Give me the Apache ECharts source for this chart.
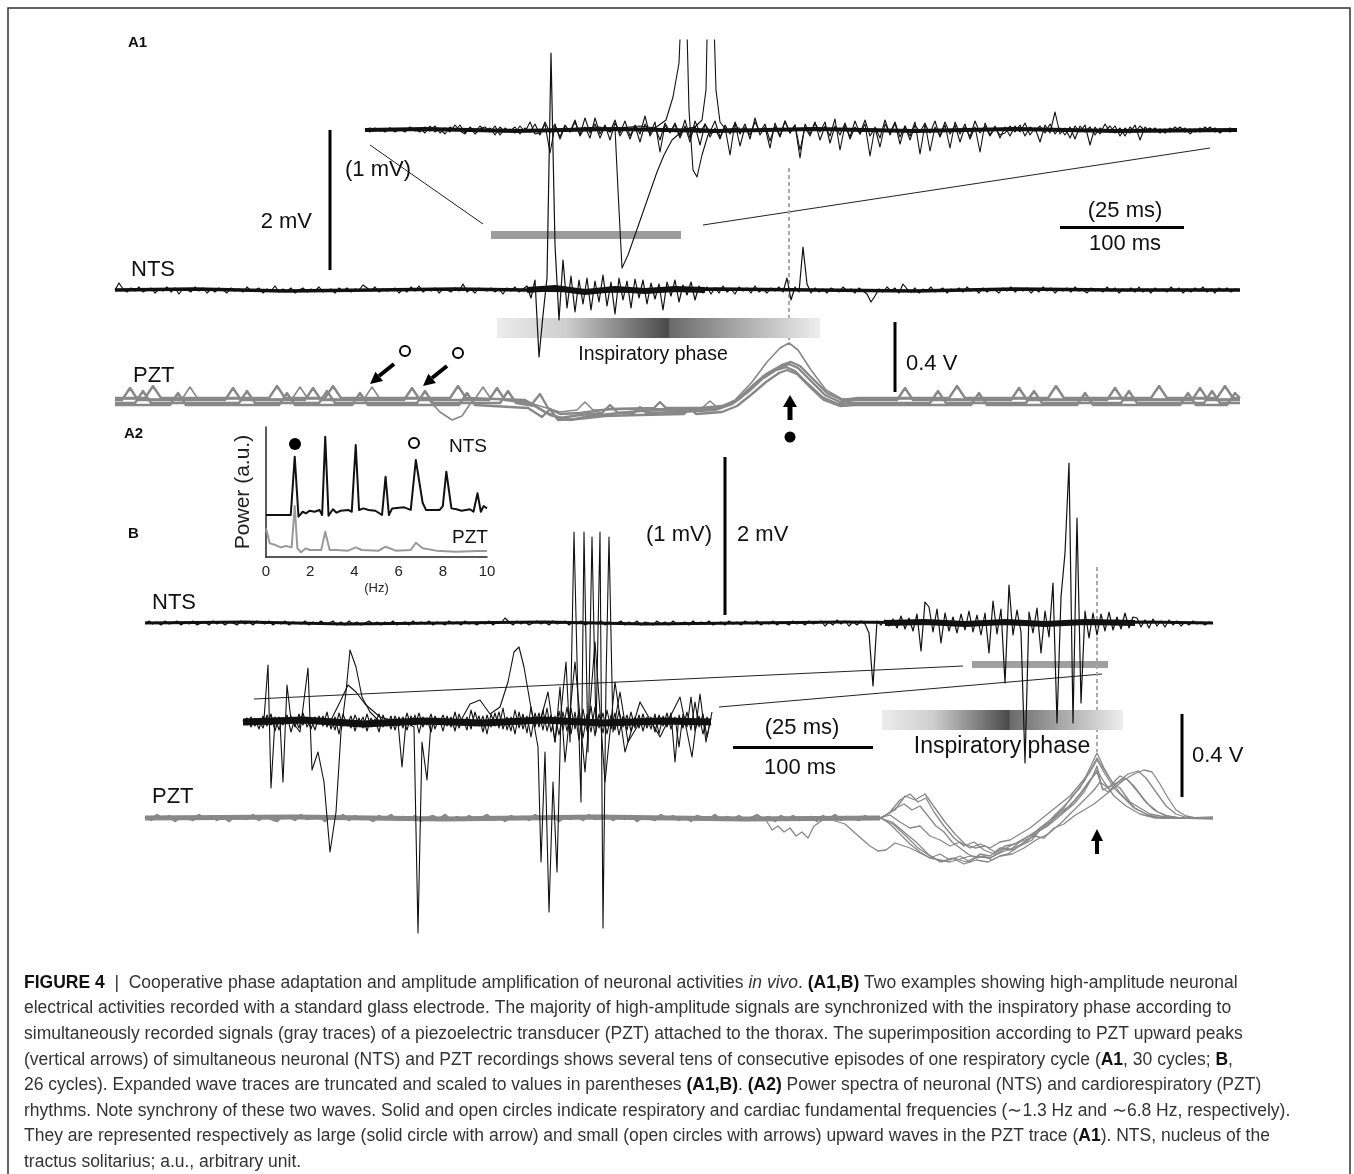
<!DOCTYPE html>
<html><head><meta charset="utf-8">
<script src="https://cdn.jsdelivr.net/npm/echarts/dist/echarts.min.js"></script>
<style>html,body{margin:0;padding:0;background:#fff}#c{width:1354px;height:1174px}</style>
</head><body><div id="c"></div><script>
// ---------- DATA (amplitudes in ADC counts, time in samples) ----------
// A1 NTS recording (superimposed cycles), sample step 4
const ntsA1 = [
0,7,1,-2,2,-1,3,-2,0,2,-3,1,-1,3,-2,2,-4,1,0,-2,
3,-1,2,-3,1,-2,2,0,-3,2,-1,1,-2,3,-1,0,2,-3,1,-1,
4,-2,1,-1,2,-3,0,2,-2,1,-1,3,-2,0,1,-3,2,-1,2,-2,
1,0,5,2,-1,3,-2,1,-1,0,2,-3,1,-2,3,-1,4,-2,1,-1,
2,-3,1,0,-2,2,-1,6,-2,1,-3,2,0,-1,2,-2,1,-4,2,-1,
3,-2,1,
4,-8,10,-67,-25,12,237,45,-30,30,-18,14,-22,10,-14,12,-20,9,-12,15,-16,8,-24,12,-10,9,-18,11,-8,10,-14,7,-9,6,-20,8,-6,10,-12,5,-5,8,-10,4,-3,
3,-4,2,-3,4,-2,1,-4,3,-1,2,-3,4,-2,1,-3,2,-1,3,-2,
12,-10,3,-2,43,6,-3,
2,-2,1,-3,2,0,-2,3,-1,1,-3,2,-1,-4,
-12,-6,
1,-2,3,-1,2,-3,6,1,-2,2,-3,1,-1,3,-2,0,2,-3,1,-1,
2,-2,3,-1,1,-3,2,-2,1,0,-3,2,-1,3,-2,1,-1,2,-3,1,
-2,3,-1,2,-3,1,-1,2,-2,3,-1,0,-3,2,-1,1,-2,3,-1,2,
-3,1,-1,2,-2,3,-2,1,-3,2,-1,1,-2,3,-1,2,-3,1,-2,2,
-1,3,-2,1,-3,2,-1,2,-2,1,0];
// dense overlap core of the 30 superimposed NTS cycles [sample, counts]
const ntsA1core = [[0,0],[80,1],[170,-1],[260,0],[340,1],[410,0],[500,-1],[600,1],[700,0],[800,-1],[900,1],[1000,0],[1125,0]];
const ntsA1burst = [[412,0],[440,2],[470,-2],[500,1],[530,-1],[560,1],[590,0]];
// A1 expanded NTS traces, sample step 5
const expA1a = [
0,2,-1,1,-2,2,-1,1,-2,3,-1,
2,-3,4,-2,1,-4,3,-1,5,-3,2,-4,1,3,-2,4,-5,2,-1,3,-4,2,-2,6,
-5,8,-3,6,-9,4,-2,10,-6,3,-8,12,-4,5,-10,7,-3,9,-6,4,
-12,6,-4,8,-22,5,-3,7,-6,10,-8,4,-15,6,-2,9,-7,3,-25,8,
-4,6,-9,12,-5,3,-18,7,-6,9,-3,5,-28,6,-4,8,-10,4,-6,11,
-20,5,-7,9,-4,6,-26,3,-8,10,-5,7,-14,4,-6,8,-24,6,-3,9,
-7,5,-18,8,-4,6,-9,3,-22,7,-5,4,-8,
3,-6,4,-2,7,-5,2,-12,5,-3,18,-4,2,-8,4,-2,5,-15,3,-4,6,-2,4,-6,2,-3,5,-10,3,-2,
2,-3,1,-2,3,-1,2,-4,1,-2,3,-1,2,-3,1,-2,0];
const expA1b = [
1,-2,2,-1,0,2,-2,1,-1,2,0,
-2,3,-1,4,-3,2,-2,5,-1,-4,3,-2,4,-1,2,-5,3,-2,1,-3,4,-2,8,-4,
-3,6,-23,4,-7,5,-2,8,-5,12,-3,6,-8,4,-2,10,-6,3,-9,5,
-4,14,-6,3,-10,7,-2,5,-8,4,-12,9,-3,6,-7,2,-9,5,-4,7,
-16,3,-5,8,-2,6,-11,4,-7,9,-3,5,-20,3,-6,7,-2,8,-13,4,
-5,7,-9,3,-4,10,-6,2,-17,6,-3,8,-7,4,-10,5,-2,7,-21,3,
-6,8,-4,5,-12,3,-7,9,-3,4,-6,2,-5,
-3,4,-2,5,-6,3,-1,4,-3,6,-4,2,-5,3,-9,4,-2,3,-5,2,-1,4,-3,2,-6,3,-2,4,-1,2,
-2,1,-3,2,-1,3,-2,1,-2,2,-1,3,-2,1,-1,2,0];
const expA1c = [[175,0],[235,3],[245,-2],[250,2],[253,-60],[257,-138],[263,-125],[270,-105],[277,-85],[285,-62],[292,-42],[299,-25],[307,-10],[315,-3],[325,2],[355,0]];
const expA1d = [[235,0],[275,4],[290,2],[301,10],[308,33],[314,67],[317,140],[321,140],[324,20],[328,-40],[332,-47],[337,-25],[343,-5],[351,0],[375,2]];
const expA1e = [[315,0],[330,3],[337,10],[341,40],[343,140],[348,140],[351,40],[355,8],[361,0],[380,1]];
const expA1core = [[0,0],[60,1],[150,-1],[250,1],[350,-1],[450,1],[550,-1],[650,1],[750,-1],[872,0]];
// A1 PZT superimposed cycles [sample, counts]
const pztA1a = [[0,0],[7,0],[15,12],[23,0],[110,0],[118,12],[126,0],[190,0],[198,12],[206,0],[289,0],[297,12],[305,0],[374,0],[382,12],[390,0],[415,-3],[430,-12],[445,-18],[465,-15],[487,-13],[495,-5],[503,-13],[525,-11],[545,-10],[585,-10],[605,-8],[620,-2],[635,12],[650,25],[665,33],[674,36],[683,32],[695,20],[710,5],[725,-2],[740,0],[782,0],[790,12],[798,0],[896,0],[904,12],[912,0],[992,0],[1000,12],[1008,0],[1077,0],[1085,12],[1093,0],[1125,0]];
const pztA1b = [[0,-3],[20,-3],[28,9],[36,-3],[124,-3],[132,9],[140,-3],[204,-3],[212,9],[220,-3],[302,-3],[310,9],[318,-3],[385,-3],[393,9],[401,-3],[420,-6],[435,-15],[455,-20],[475,-16],[505,-13],[519,-13],[525,-7],[531,-13],[565,-12],[600,-10],[617,-4],[633,8],[647,21],[661,30],[671,33],[680,29],[693,16],[707,3],[723,-4],[737,-3],[815,-3],[823,9],[831,-3],[911,-3],[919,9],[927,-3],[1006,-3],[1014,9],[1022,-3],[1089,-3],[1097,9],[1105,-3],[1125,-3]];
const pztA1c = [[0,2],[30,2],[38,14],[46,2],[154,2],[162,14],[170,2],[210,2],[218,14],[226,2],[335,2],[343,14],[351,2],[410,0],[417,-4],[425,6],[433,-8],[445,-14],[465,-13],[495,-9],[539,-8],[545,-2],[551,-8],[585,-8],[607,-6],[623,0],[638,14],[653,27],[667,35],[676,38],[685,34],[697,22],[712,7],[727,0],[743,2],[834,2],[842,14],[850,2],[933,2],[941,14],[949,2],[1036,2],[1044,14],[1052,2],[1102,2],[1110,14],[1118,2],[1125,2]];
const pztA1d = [[0,-5],[55,-5],[63,7],[71,-5],[164,-5],[172,7],[180,-5],[237,-5],[245,7],[253,-5],[344,-5],[352,7],[360,-5],[413,-8],[427,-17],[435,-9],[443,-20],[463,-19],[490,-16],[525,-15],[569,-14],[575,-8],[581,-14],[607,-12],[622,-6],[637,6],[651,18],[664,27],[672,30],[682,26],[694,14],[709,0],[725,-6],[740,-5],[856,-5],[864,7],[872,-5],[962,-5],[970,7],[978,-5],[1065,-5],[1073,7],[1081,-5],[1112,-5],[1120,7],[1125,2]];
const pztA1e = [[0,1],[67,1],[75,13],[83,1],[177,1],[185,13],[193,1],[249,1],[257,13],[265,1],[313,1],[325,-12],[337,-20],[347,-16],[355,-4],[360,1],[368,13],[376,1],[405,0],[425,-6],[445,-12],[462,-10],[470,-2],[478,-10],[525,-9],[587,-8],[595,-1],[603,-8],[620,0],[637,18],[652,38],[665,52],[674,57],[683,50],[696,30],[711,10],[727,1],[745,1],[1125,1]];
// A2 power spectra [Hz, a.u.]
const specNTS = [[0,32.3],[1.12,32.3],[1.3,77.2],[1.47,31],[1.66,34.8],[1.81,33.6],[1.97,35.6],[2.2,34.8],[2.42,36.2],[2.54,32.3],[2.68,92.5],[2.83,31.8],[3.03,36.7],[3.19,34.1],[3.38,35.6],[3.72,36.2],[3.88,34.8],[4.06,86.2],[4.21,36.2],[4.41,37.4],[4.64,36.2],[4.95,35.6],[5.25,32.3],[5.41,61.8],[5.56,32.3],[5.71,37.4],[6.02,37.9],[6.25,38.2],[6.55,36.2],[6.78,74.6],[7.09,41.5],[7.24,36.2],[7.86,36.2],[8.0,39.2],[8.16,65.6],[8.39,37.4],[8.62,36.7],[8.85,35.6],[9.23,36.7],[9.39,34.8],[9.57,49],[9.72,34.8],[9.85,39.2],[10,37.4]];
const specPZT = [[0,22],[0.17,10.5],[0.43,9.2],[0.67,7.4],[0.9,8.5],[1.16,7.4],[1.3,39.2],[1.42,6.7],[1.58,3.6],[1.81,6.7],[1.97,5.4],[2.2,5.4],[2.5,5.4],[2.68,19.5],[2.88,5.4],[3.19,5.4],[3.72,4.9],[4.06,7.4],[4.33,5.4],[5.1,4.9],[5.41,7.9],[5.87,4.9],[6.55,5.4],[6.78,11],[7.09,6.7],[7.7,4.9],[8.62,4.1],[9.54,4.6],[10,4.6]];
const specTicks = [0,2,4,6,8,10];
// B NTS recording, sample step 4
const ntsB = [
0,2,-1,1,-2,2,-1,0,2,-2,1,-1,2,-2,0,1,-2,2,-1,1,
-2,1,0,-2,2,-1,1,-2,2,0,-1,2,-2,1,-1,2,-2,1,0,-1,
2,-2,1,-1,2,-1,0,2,-2,1,-2,2,-1,1,-2,0,2,-1,1,-2,
1,-1,2,-2,0,1,-2,2,-1,1,-1,2,-2,1,0,-2,2,-1,1,-2,
2,-1,0,-2,1,-1,2,-2,1,0,5,1,-2,2,-1,1,-2,0,2,-1,
1,-2,2,-1,0,2,-2,1,-1,2,-2,0,1,-1,2,-2,1,-1,0,2,
-2,1,-1,2,-2,1,0,-2,2,-1,1,-2,2,-1,0,1,-2,2,-1,1,
-1,2,-2,0,1,-2,2,-1,1,-2,2,0,-1,2,-2,1,-1,2,-2,1,
0,-2,2,-1,1,-2,2,-1,0,2,-3,1,-2,3,-1,2,-3,1,-2,2,
-1,-10,-63,2,-2,3,-3,
4,-5,7,-6,5,-8,9,-28,21,16,-9,14,-20,10,-8,6,-10,9,-7,12,
-9,8,-12,10,-30,22,-11,14,-60,38,-12,13,-9,-140,11,-10,15,-30,12,-14,
40,-100,26,70,160,-100,105,-80,12,-15,10,-12,9,-8,11,-7,6,-6,10,-5,6,
5,-4,3,-5,4,-3,2,-4,3,-2,2,-3,1,-2,2,-1,1,-2,1,0];
const ntsBcore = [[0,0],[100,1],[200,-1],[300,0],[400,1],[500,-1],[600,0],[700,1],[800,0],[900,-1],[1000,1],[1068,0]];
const ntsBburst = [[740,0],[780,1],[820,-1],[860,1],[900,-1],[940,1],[990,0]];
// B expanded NTS traces, sample step 4
const expBa = [
0,4,-5,3,-7,6,-4,8,-9,5,-3,7,-10,4,-6,9,-5,3,-8,6,
-4,10,-7,5,-12,8,-3,6,-9,4,-6,8,-5,3,-10,7,-4,6,-8,5,
-6,9,-4,7,-11,5,-3,8,-7,4,-9,6,-5,10,-6,3,-8,12,-4,6,
-10,7,-5,9,-6,14,-8,5,-12,10,-7,6,-15,9,-5,12,-9,7,-20,11,
-8,15,-12,10,-18,13,-9,16,-14,8,-11,12,-7,9,-13,6,-8,10,-6,7,
-9,5,-7,8,-12,6,-5,9,-40,7,-6,10,-8,20,-5,8,-15,4];
const expBb = [
2,-3,5,-4,2,-6,7,-3,5,-8,4,-2,6,-5,8,-3,4,-7,5,-2,
6,-5,3,-8,9,-4,2,-6,7,-3,5,-9,4,-2,8,-5,3,-7,6,-4,
5,-8,6,-3,9,-5,4,-10,6,-2,7,-4,5,-9,8,-3,5,-7,10,-4,
6,-12,8,-4,10,-7,5,-9,12,-6,8,-11,15,-5,9,-8,14,-10,6,-13,
10,-9,14,-7,11,-16,8,-10,15,-6,9,-12,7,-8,11,-5,7,-9,5,-6,
8,-6,5,-10,7,-4,9,-7,5,-25,8,-5,25,-9,6,-12,5,-3];
const expBc = [[12,0],[21,3],[25,57],[28,-66],[32,2],[37,0],[40,-60],[44,37],[48,2],[57,-10],[65,54],[69,-48],[75,-30],[81,-60],[87,-130],[93,-90],[98,-10],[103,30],[107,72],[113,55],[119,25],[127,10],[137,0]];
const expBd = [[87,0],[97,20],[105,37],[113,30],[122,18],[137,5],[155,0],[159,-45],[163,0],[171,-5],[175,-211],[179,-20],[184,-58],[188,0],[202,3]];
const expBe = [[217,0],[227,18],[237,22],[247,8],[257,15],[265,40],[271,70],[276,75],[281,55],[287,20],[295,-25],[298,-140],[302,-30],[306,-190],[310,-60],[314,-150],[318,10],[323,60],[327,-20],[331,190],[335,20],[338,-80],[341,190],[345,-30],[349,185],[353,-10],[357,190],[360,-206],[363,40],[366,185],[370,-10],[377,30],[385,-20],[397,0]];
const expBf = [[297,0],[305,30],[312,-20],[317,35],[322,-40],[332,60],[342,-50],[352,80],[362,-60],[372,40],[382,-30],[397,20],[417,-15],[437,25],[449,-35],[457,28],[463,-20],[469,10]];
const expBcore = [[0,0],[60,2],[120,-2],[180,1],[240,-1],[300,2],[360,-1],[420,1],[468,0]];
// B PZT: flat superimposed baseline (sample step 6) and respiratory cycles [sample, counts]
const pztBbase = [
1,-2,3,-1,2,-3,1,0,-2,3,-1,2,-2,1,-3,2,0,-1,3,-2,
2,-1,-3,2,1,-2,3,-1,0,2,-3,1,-1,3,-2,2,-1,0,-3,2,
-1,3,-2,1,-1,2,-3,0,2,-1,3,-2,1,-2,2,-1,0,3,-2,1,
-3,2,-1,1,-2,3,0,-1,2,-3,1,-1,2,-2,3,-1,0,2,-2,1,
-1,2,-3,1,0,-2,3,-1,2,-2,1,-3,2,0,-1,3,-2,1,-1,2,
-2,0,3,-1,1,-3,2,-1,2,-2,0,1,-3,2,-1,3,-2,1,0,-2,
2,-1,1];
const pztBcore = [[0,0],[150,1],[300,-1],[450,1],[600,-1],[735,0]];
const pztBa = [[735,0],[743,4],[751,10],[759,14],[767,8],[775,12],[783,2],[791,-8],[799,-14],[807,-24],[815,-30],[823,-36],[831,-40],[839,-38],[847,-42],[855,-38],[863,-36],[871,-30],[879,-26],[887,-22],[895,-12],[903,-8],[911,4],[919,10],[927,22],[935,30],[943,46],[952,65],[959,50],[967,36],[975,30],[985,16],[995,10],[1005,4],[1015,2],[1030,0],[1068,0]];
const pztBb = [[735,1],[745,-6],[755,-16],[765,-26],[775,-34],[785,-40],[795,-36],[805,-42],[815,-38],[825,-44],[835,-36],[845,-38],[855,-30],[865,-32],[875,-24],[885,-20],[895,-10],[905,-4],[915,6],[925,12],[935,24],[945,38],[952,46],[958,28],[965,32],[975,42],[983,38],[993,26],[1003,14],[1013,6],[1023,2],[1035,0],[1068,-1]];
const pztBc = [[735,-1],[745,6],[755,18],[765,24],[773,16],[781,20],[789,6],[799,-8],[809,-20],[819,-28],[829,-24],[839,-32],[849,-36],[859,-30],[869,-32],[879,-24],[889,-18],[899,-20],[909,-10],[919,-6],[929,2],[939,8],[949,14],[959,22],[969,30],[979,38],[989,44],[999,48],[1007,46],[1015,34],[1023,20],[1031,8],[1041,2],[1051,0],[1068,0]];
const pztBd = [[735,0],[747,-4],[759,-14],[771,-24],[783,-36],[795,-44],[807,-40],[819,-46],[831,-42],[843,-44],[855,-38],[867,-36],[879,-30],[891,-22],[903,-16],[915,-6],[927,6],[939,18],[949,28],[955,36],[963,30],[973,36],[983,44],[993,47],[1001,40],[1011,26],[1021,12],[1031,4],[1043,0],[1068,1]];
const pztBe = [[735,0],[745,3],[755,-4],[765,-10],[775,-8],[785,-18],[795,-22],[805,-28],[815,-24],[825,-30],[835,-26],[845,-30],[855,-24],[865,-22],[875,-16],[885,-10],[895,-2],[905,6],[915,14],[925,22],[935,34],[945,46],[952,58],[960,44],[969,30],[979,20],[989,10],[1001,4],[1015,0],[1068,0]];
const pztBf = [[615,0],[621,-2],[627,-12],[633,-8],[639,-14],[645,-10],[651,-18],[657,-14],[663,-20],[669,-8],[675,-4],[682,1],[690,-3],[700,-6],[710,-15],[718,-22],[725,-28],[733,-33],[741,-32],[750,-25],[765,-30],[785,-40],[805,-44],[825,-38],[845,-40],[865,-28],[885,-18],[905,-2],[925,18],[940,38],[952,60],[963,42],[975,25],[990,10],[1005,2],[1020,0],[1068,0]];
const pztBg = [[735,0],[750,8],[760,22],[770,18],[780,24],[790,10],[800,-4],[810,-16],[820,-26],[830,-30],[840,-28],[850,-34],[860,-28],[870,-26],[880,-20],[890,-14],[900,-8],[910,0],[920,8],[930,18],[940,30],[947,40],[952,52],[957,30],[963,26],[971,34],[980,40],[989,32],[999,18],[1009,8],[1021,2],[1035,0],[1068,0]];
const pztBh = [[735,0],[748,-6],[761,-18],[773,-30],[785,-38],[797,-44],[809,-40],[821,-44],[833,-38],[845,-40],[857,-34],[869,-30],[881,-24],[893,-14],[905,-6],[917,4],[929,14],[939,26],[947,40],[952,48],[959,36],[969,22],[981,12],[995,4],[1010,0],[1068,0]];
// Caption lines
const captionLines = [
 '{b|FIGURE 4}  |  Cooperative phase adaptation and amplitude amplification of neuronal activities {i|in vivo}. {b|(A1,B)} Two examples showing high-amplitude neuronal',
 'electrical activities recorded with a standard glass electrode. The majority of high-amplitude signals are synchronized with the inspiratory phase according to',
 'simultaneously recorded signals (gray traces) of a piezoelectric transducer (PZT) attached to the thorax. The superimposition according to PZT upward peaks',
 '(vertical arrows) of simultaneous neuronal (NTS) and PZT recordings shows several tens of consecutive episodes of one respiratory cycle ({b|A1}, 30 cycles; {b|B},',
 '26 cycles). Expanded wave traces are truncated and scaled to values in parentheses {b|(A1,B)}. {b|(A2)} Power spectra of neuronal (NTS) and cardiorespiratory (PZT)',
 'rhythms. Note synchrony of these two waves. Solid and open circles indicate respiratory and cardiac fundamental frequencies (\u223c1.3 Hz and \u223c6.8 Hz, respectively).',
 'They are represented respectively as large (solid circle with arrow) and small (open circles with arrows) upward waves in the PZT trace ({b|A1}). NTS, nucleus of the',
 'tractus solitarius; a.u., arbitrary unit.'
];

// ---------- CHART ----------
const FF = '"Liberation Sans", Arial, Helvetica, sans-serif';
const BLACK = '#111', GRAY = '#888';
const U = (arr, step) => arr.map((v, i) => [i * step, v]);
const grids = [
 {left:365, top:40,  width:875,  height:250, x:[0,875],  y:[-160,90]},  // 0 A1 expanded
 {left:115, top:40,  width:1125, height:360, x:[0,1125], y:[-110,250]}, // 1 A1 NTS
 {left:115, top:330, width:1125, height:110, x:[0,1125], y:[-40,70]},   // 2 A1 PZT
 {left:266, top:427, width:221,  height:130, x:[0,10],   y:[0,100]},    // 3 A2
 {left:145, top:440, width:1068, height:340, x:[0,1068], y:[-157,183]}, // 4 B NTS
 {left:243, top:500, width:470,  height:440, x:[0,470],  y:[-218,222]}, // 5 B expanded
 {left:145, top:740, width:1068, height:140, x:[0,1068], y:[-62,78]}    // 6 B PZT
];
const xAxes = grids.map((g, i) => ({gridIndex:i, type:'value', min:g.x[0], max:g.x[1], show:false}));
const yAxes = grids.map((g, i) => ({gridIndex:i, type:'value', min:g.y[0], max:g.y[1], show:false}));
xAxes[3] = {gridIndex:3, type:'value', min:0, max:10, interval:2, show:true,
  axisLine:{show:true, onZero:false, lineStyle:{color:'#222', width:1.5}}, axisTick:{show:false}, splitLine:{show:false},
  axisLabel:{fontSize:15, color:'#222', margin:7, fontFamily:FF, customValues: specTicks},
  name:'(Hz)', nameLocation:'middle', nameGap:25, nameTextStyle:{fontSize:13, color:'#222', fontFamily:FF}};
yAxes[3] = {gridIndex:3, type:'value', min:0, max:100, show:true,
  axisLine:{show:true, onZero:false, lineStyle:{color:'#222', width:1.5}}, axisTick:{show:false}, splitLine:{show:false},
  axisLabel:{show:false},
  name:'Power (a.u.)', nameLocation:'middle', nameGap:12, nameTextStyle:{fontSize:21, color:'#222', fontFamily:FF}};

function ln(g, data, color, width, z) {
  return {type:'line', xAxisIndex:g, yAxisIndex:g, data:data, showSymbol:false, symbol:'none', silent:true,
    animation:false, clip:true, z:z || 2, lineStyle:{color:color, width:width, join:'round', cap:'butt'}};
}
const series = [
 ln(2, pztA1a, GRAY, 2.4), ln(2, pztA1b, GRAY, 2.4), ln(2, pztA1c, GRAY, 2.4), ln(2, pztA1d, GRAY, 2.4), ln(2, pztA1e, GRAY, 1.6),
 ln(0, expA1core, BLACK, 4), ln(0, U(expA1a, 5), BLACK, 1.1), ln(0, U(expA1b, 5), BLACK, 1.1),
 ln(0, expA1c, BLACK, 1.1), ln(0, expA1d, BLACK, 1.1), ln(0, expA1e, BLACK, 1.1),
 ln(1, ntsA1core, BLACK, 3.5), ln(1, ntsA1burst, BLACK, 6), ln(1, U(ntsA1, 4), BLACK, 1.2),
 ln(3, specPZT, '#999', 2), ln(3, specNTS, BLACK, 2),
 ln(6, pztBcore, GRAY, 5), ln(6, U(pztBbase, 6), GRAY, 2.4),
 ln(6, pztBa, GRAY, 1.3), ln(6, pztBb, GRAY, 1.3), ln(6, pztBc, GRAY, 1.3), ln(6, pztBd, GRAY, 1.3),
 ln(6, pztBe, GRAY, 1.3), ln(6, pztBf, GRAY, 1.3), ln(6, pztBg, GRAY, 1.3), ln(6, pztBh, GRAY, 1.3),
 ln(4, ntsBcore, BLACK, 3), ln(4, ntsBburst, BLACK, 6), ln(4, U(ntsB, 4), BLACK, 1.2),
 ln(5, expBcore, BLACK, 7), ln(5, U(expBa, 4), BLACK, 1.1), ln(5, U(expBb, 4), BLACK, 1.1), ln(5, expBc, BLACK, 1.1), ln(5, expBd, BLACK, 1.1),
 ln(5, expBe, BLACK, 1.1), ln(5, expBf, BLACK, 1.1)
];

// ---------- annotations ----------
const G = [];
function T(x, y, text, size, align, extra) {
  const st = Object.assign({text:text, x:x, y:y, font:(size) + 'px ' + FF, fill:'#111',
    textAlign:align || 'left', textVerticalAlign:'middle', align:align || 'left', verticalAlign:'middle'}, extra || {});
  G.push({type:'text', z:1, silent:true, style:st});
}
function R(x, y, w, h, fill, z) { G.push({type:'rect', z:z || 1, silent:true, shape:{x:x, y:y, width:w, height:h}, style:{fill:fill}}); }
function L(x1, y1, x2, y2, stroke, w, dash) { G.push({type:'line', z:1, silent:true, shape:{x1:x1, y1:y1, x2:x2, y2:y2}, style:{stroke:stroke, lineWidth:w, lineDash:dash || null, fill:null}}); }
function C(cx, cy, r, fill, stroke, w) { G.push({type:'circle', z:5, silent:true, shape:{cx:cx, cy:cy, r:r}, style:{fill:fill, stroke:stroke, lineWidth:w || 0}}); }
function P(pts) { G.push({type:'polygon', z:5, silent:true, shape:{points:pts}, style:{fill:'#000'}}); }
function grad(split) {
  return {type:'linear', x:0, y:0, x2:1, y2:0, colorStops:[
    {offset:0, color:'#ececec'}, {offset:split * 0.4, color:'#cfcfcf'}, {offset:split, color:'#4a4a4a'},
    {offset:split + 0.005, color:'#6a6a6a'}, {offset:split + (1 - split) * 0.55, color:'#b4b4b4'}, {offset:1, color:'#eeeeee'}]};
}

// frame
G.push({type:'rect', z:0, silent:true, shape:{x:8, y:8, width:1342, height:1190}, style:{fill:null, stroke:'#333', lineWidth:1.5}});
// panel letters
T(128, 43, 'A1', 15, 'left', {font:'bold 15px ' + FF});
T(124, 434, 'A2', 15, 'left', {font:'bold 15px ' + FF});
T(128, 534, 'B', 15, 'left', {font:'bold 15px ' + FF});

// ---- A1 ----
L(370, 145, 483, 224, '#222', 1);
L(703, 225, 1210, 148, '#222', 1);
R(491, 231, 190, 8, '#9c9c9c');
R(328.5, 130, 3, 140, '#000');
T(312, 222, '2 mV', 22, 'right');
T(345, 170, '(1 mV)', 22, 'left');
R(1060, 226, 124, 3, '#000');
T(1125, 211, '(25 ms)', 22, 'center');
T(1125, 244, '100 ms', 22, 'center');
L(789, 168, 789, 345, '#aaa', 2, [4, 3]);
G.push({type:'rect', z:1, silent:true, shape:{x:497, y:318, width:323, height:20}, style:{fill:grad(0.53)}});
T(653, 355, 'Inspiratory phase', 19.5, 'center');
R(893.5, 322, 3, 70, '#000');
T(906, 364, '0.4 V', 22, 'left');
T(131, 270, 'NTS', 22, 'left');
T(133, 376, 'PZT', 22, 'left');
// open-circle arrows
C(405, 351, 5, '#fff', '#000', 2);
C(458, 353, 5, '#fff', '#000', 2);
G.push({type:'line', z:5, silent:true, shape:{x1:394, y1:364, x2:379, y2:376}, style:{stroke:'#000', lineWidth:4}});
P([[370, 384], [383, 381], [375.4, 371.8]]);
G.push({type:'line', z:5, silent:true, shape:{x1:447, y1:366, x2:432, y2:378}, style:{stroke:'#000', lineWidth:4}});
P([[423, 386], [436, 383], [428.4, 373.8]]);
// solid-circle up arrow
R(787.5, 405, 5, 15, '#000', 5);
P([[790, 395], [783, 407], [797, 407]]);
C(790, 437, 5.5, '#000', null, 0);

// ---- A2 ----
C(295, 444, 6, '#000', null, 0);
C(414, 443, 5, '#fff', '#000', 2);
T(449, 447, 'NTS', 19, 'left');
T(452, 538, 'PZT', 19, 'left');

// ---- B ----
R(723.5, 457, 3, 158, '#000');
T(712, 535, '(1 mV)', 22, 'right');
T(737, 535, '2 mV', 22, 'left');
L(254, 699, 963, 666, '#222', 1);
L(719, 707, 1102, 674, '#222', 1);
R(972, 661, 136, 7, '#a0a0a0');
R(733, 746, 140, 3, '#000');
T(802, 728, '(25 ms)', 22, 'center');
T(800, 768, '100 ms', 22, 'center');
L(1097, 567, 1097, 752, '#aaa', 2, [4, 3]);
G.push({type:'rect', z:1, silent:true, shape:{x:882, y:710, width:241, height:20}, style:{fill:grad(0.527)}});
T(1002, 747, 'Inspiratory phase', 23, 'center');
R(1180.5, 714, 3, 83, '#000');
T(1192, 756, '0.4 V', 22, 'left');
T(152, 603, 'NTS', 22, 'left');
T(152, 797, 'PZT', 22, 'left');
R(1095, 840, 4, 14, '#000', 5);
P([[1097, 829], [1091, 841], [1103, 841]]);

// ---- caption ----
captionLines.forEach((s, k) => {
  G.push({type:'text', z:1, silent:true, style:{text:s, x:24, y:983 + k * 25.6, font:'17.5px ' + FF, fill:'#333',
    textAlign:'left', textVerticalAlign:'middle', align:'left', verticalAlign:'middle',
    rich:{b:{fontWeight:'bold', fontSize:17.5, fontFamily:FF, fill:'#111', color:'#111'},
          i:{fontStyle:'italic', fontSize:17.5, fontFamily:FF, fill:'#333', color:'#333'}}}});
});

const chart = echarts.init(document.getElementById('c'), null, {renderer:'canvas', width:1354, height:1174});
chart.setOption({
  animation:false, backgroundColor:'#fff',
  grid: grids.map(g => ({left:g.left, top:g.top, width:g.width, height:g.height, containLabel:false, outerBoundsMode:'none'})),
  xAxis: xAxes, yAxis: yAxes, series: series, graphic: {elements: G}
});
</script></body></html>
